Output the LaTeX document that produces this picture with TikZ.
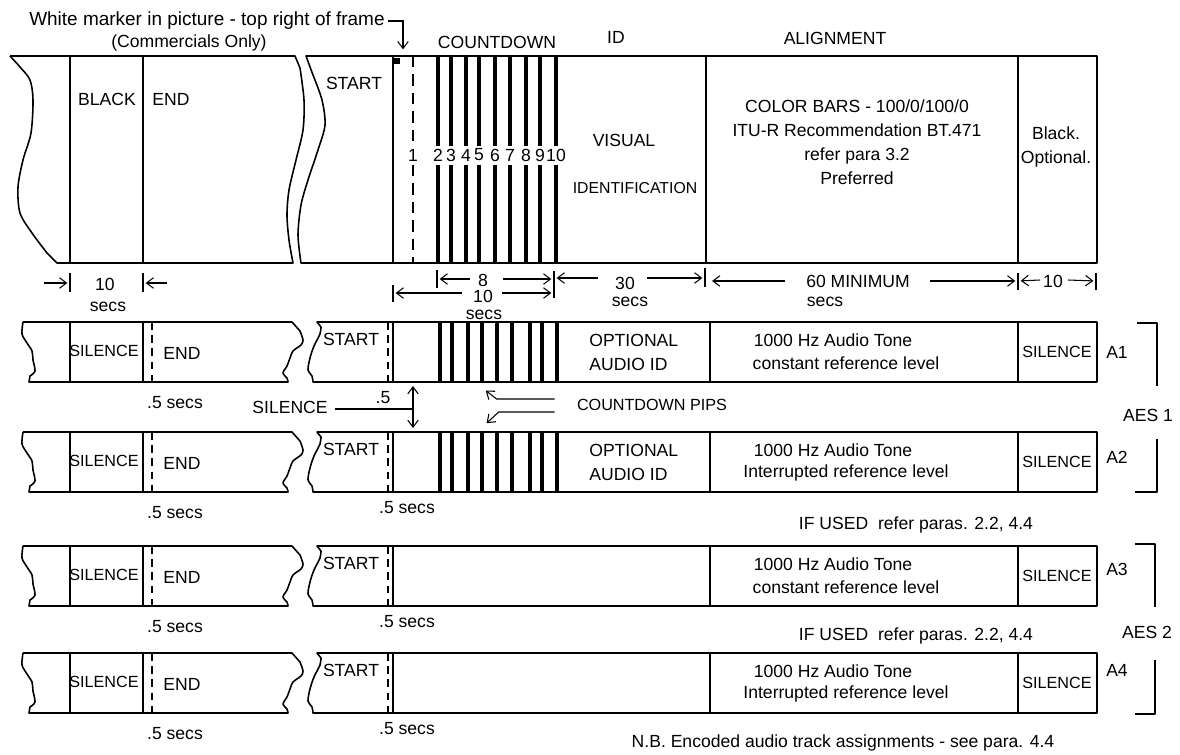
\documentclass[tikz,border=0pt]{standalone}
\usepackage{fontspec}
\setmainfont{Liberation Sans}
\usetikzlibrary{arrows.meta}

\begin{document}
\begin{tikzpicture}[
    x=0.02cm, y=-0.02cm,
    every node/.style={font=\fontsize{10}{13.6}\selectfont, inner sep=0pt},
    capsm/.style={font=\fontsize{9.2}{12}\selectfont},
    ln/.style={line width=0.9pt, line join=round},
    bar/.style={line width=1.9pt},
    cut/.style={line width=0.8pt, dash pattern=on 6.5pt off 4pt},
    cutlo/.style={line width=0.8pt, dash pattern=on 4.5pt off 3pt},
    tk/.style={line width=0.7pt},
    dim/.style={line width=0.6pt, shorten >=1.5pt, -{Straight Barb[length=4pt, width=6pt]}},
    both/.style={line width=0.6pt, {Straight Barb[length=4pt, width=6pt]}-{Straight Barb[length=4pt, width=6pt]}},
]
\useasboundingbox (0,0) rectangle (1180,754);

% ---------------------------------------------------------------- headings
\node[anchor=east, font=\fontsize{10.8}{13}\selectfont] (marker) at (385,21) {White marker in picture - top right of frame};
\node (comm) at (189,43) {(Commercials Only)};
\coordinate (mtip) at (403,52);
\draw[dim] (marker.east) ++(3,0) -| (mtip);
\node (cdown) at (497,42) {COUNTDOWN};
\node (idhd)  at (616,37) {ID};
\node (align) at (835,38) {ALIGNMENT};

% ---------------------------------------------------------------- picture
\draw[ln] (10,56) -- (295,56) -- plot[smooth] coordinates {(300,68) (304,100) (303,130) (296,160) (289,190) (287,215) (289,240) (293,263)}
    -- (57,263) -- plot[smooth] coordinates {(47,253) (32,233) (20,213) (18,187) (23,160) (31,133) (33,100) (30,80) (20,67) (10,56)};
\draw[ln] (1097,56) -- (306,56) -- plot[smooth] coordinates {(313,75) (322,100) (325,125) (318,150) (308,180) (301,205) (298,235) (301,263)}
    -- (1097,263) -- cycle;
\foreach \x in {70, 143, 393, 706, 1018}{
    \draw[ln] (\x,56) -- (\x,263);
}
\fill (394,58) rectangle (400,64);

% countdown 1..10
\draw[cut] (413,56) -- (413,146);
\draw[cut] (413,165) -- (413,263);
\node (cd1) at (413,155) {1};
\foreach \x/\n in {438/2, 451/3, 466/4, 479/5, 495/6, 510/7, 526/8, 540/9, 556/10}{
    \draw[bar] (\x,56) -- (\x,146);
    \draw[bar] (\x,165) -- (\x,263);
    \node (cd\n) at (\x,155) {\n};
}

\node (black) at (107,99) {BLACK};
\node (vend)  at (171,99) {END};
\node (vstart) at (354,83) {START};
\node (visual) at (624,140) {VISUAL};
\node[font=\fontsize{9}{12}\selectfont] (ident) at (635,188) {IDENTIFICATION};
\node[align=center] (bars) at (857,142) {COLOR BARS - 100/0/100/0\\ITU-R Recommendation BT.471\\refer para 3.2\\Preferred};
\node[align=center] (blk) at (1056,147) {Black.\\Optional.};

% ---------------------------------------------------------------- durations
\foreach \x/\a/\b in {70/273/292, 143/273/292, 437/270/288, 554/271/298, 393/285/302, 705/268/287, 1018/273/290, 1096/273/290}{
    \draw[tk] (\x,\a) -- (\x,\b);
}
\coordinate (k70) at (70,283);
\coordinate (k143) at (143,283);
\node (d10a) at (105,284) {10};
\node (s10a) at (108,307) {secs};
\draw[dim] (d10a) ++(-61,-1) -- (k70);
\draw[dim] (d10a) ++(62,-1) -- (k143);

\coordinate (k437) at (437,279);
\coordinate (k554) at (554,279);
\node (d8) at (483,280) {8};
\draw[dim] (d8) ++(-13,-1) -- (k437);
\draw[dim] (d8) ++(20,-1) -- (k554);

\coordinate (k393) at (393,293);
\coordinate (k554b) at (554,293);
\node (d10b) at (483,296) {10};
\node (s10b) at (484,315) {secs};
\draw[dim] (d10b) ++(-21,-3) -- (k393);
\draw[dim] (d10b) ++(19,-3) -- (k554b);

\coordinate (k554c) at (554,278);
\coordinate (k705) at (705,278);
\node (d30) at (625,283) {30};
\node (s30) at (630,302) {secs};
\draw[dim] (d30) ++(-27,-5) -- (k554c);
\draw[dim] (d30) ++(22,-5) -- (k705);

\coordinate (k705b) at (705,281);
\coordinate (k1018) at (1018,281);
\node (d60) at (858,281) {60 MINIMUM};
\node (s60) at (825,302) {secs};
\draw[dim, shorten >=4pt] (d60) ++(-73,0) -- (k705b);
\draw[dim] (d60) ++(72,0) -- (k1018);

\coordinate (k1096) at (1096,281);
\node (d10c) at (1053,281) {10};
\draw[dim] (d10c) ++(-13,-1) -- (k1018);
\draw[dim] (d10c) ++(15,-1) -- (k1096);

% ---------------------------------------------------------------- audio tracks
\foreach \t/\nm/\lvl/\ay in {322/1/constant/30, 432/2/Interrupted/25, 546/3/constant/23, 653/4/Interrupted/17}{
  \begin{scope}[shift={(0,\t)}]
    \draw[ln] (23,0) -- (292,0) -- plot[smooth] coordinates {(300,9) (303,18) (301,23) (293,29) (290,36) (287,44) (283,51) (287,56) (288,60)}
        -- (29,60) -- plot[smooth] coordinates {(30,54) (35,49) (33,38) (32,29) (27,21) (22,12) (23,0)};
    \draw[ln] (1097,0) -- (317,0) -- plot[smooth] coordinates {(321,5) (320,12) (314,24) (310,36) (308,48) (312,54) (313,60)}
        -- (1097,60) -- cycle;
    \foreach \x in {70, 143, 393, 710, 1018}{
        \draw[ln] (\x,0) -- (\x,60);
    }
    \draw[cutlo] (152,0) -- (152,60);
    \draw[cutlo] (388,0) -- (388,60);
    \node[capsm] (sl\nm) at (104,29) {SILENCE};
    \node (en\nm) at (182,31) {END};
    \node (st\nm) at (351,17) {START};
    \node[capsm] (sr\nm) at (1057,30) {SILENCE};
    \node (a\nm) at (1117,\ay) {A\nm};
    \node (tn\nm) at (833,18) {1000 Hz Audio Tone};
    \node (lv\nm) at (846,41) {\lvl\ reference level};
    \node (hl\nm) at (175,81) {.5 secs};
    \ifnum\nm<3
        \foreach \x in {440, 452, 468, 482, 497, 512, 530, 542, 557}{
            \draw[bar] (\x,0) -- (\x,60);
        }
        \node[anchor=west, align=left] (oa\nm) at (589,30) {OPTIONAL\\AUDIO ID};
    \else
    \fi
    \ifnum\nm>1
        \node (hr\nm) at (407,76) {.5 secs};
    \fi
  \end{scope}
}

% ---------------------------------------------------------------- silence / pips
\coordinate (gapT) at (413,386);
\coordinate (gapB) at (413,428);
\draw[both] (gapT) -- (gapB);
\node (silA) at (290,407) {SILENCE};
\node (half) at (383,398) {.5};
\draw[line width=0.6pt] (silA.east) ++(7,2) -- (gapT |- 0,409);

\node[capsm] (pips) at (652,405) {COUNTDOWN PIPS};
\draw[dim] (pips.west) ++(-22,-6) -- ++(-58,0) -- ++(-13,-10);
\draw[dim] (pips.west) ++(-22,7) -- ++(-56,0) -- ++(-14,13);

% ---------------------------------------------------------------- notes
\node (used1) at (916,525) {IF USED~~refer paras. 2.2, 4.4};
\node (used2) at (916,636) {IF USED~~refer paras. 2.2, 4.4};
\node (nb) at (843,743) {N.B. Encoded audio track assignments - see para. 4.4};

% ---------------------------------------------------------------- AES pairs
\draw[ln] (1137,323) -| (1157,386);
\draw[ln] (1157,439) |- (1135,492);
\node (aes1) at (1148,415) {AES 1};
\draw[ln] (1135,544) -| (1155,607);
\draw[ln] (1155,660) |- (1135,714);
\node (aes2) at (1147,632) {AES 2};

\end{tikzpicture}
\end{document}
